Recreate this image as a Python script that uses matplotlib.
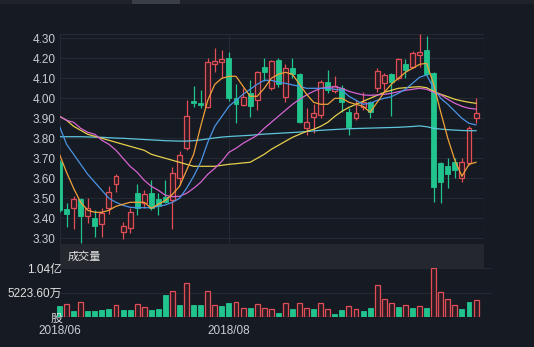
import matplotlib
matplotlib.use('Agg')
import matplotlib.pyplot as plt
from matplotlib.patches import Rectangle
import numpy as np

plt.rcParams['font.family'] = ['Liberation Sans', 'Noto Sans CJK SC', 'DejaVu Sans']

# ---------------- data ----------------
opens = [3.68, 3.445, 3.45, 3.495, 3.41, 3.40, 3.373, 3.45, 3.571, 3.333,
         3.353, 3.525, 3.478, 3.525, 3.495, 3.505, 3.49, 3.60, 3.75, 3.985,
         3.977, 3.958, 4.17, 4.18, 4.203, 4.003, 3.967, 4.025, 3.992, 4.155,
         4.053, 4.19, 4.008, 4.153, 4.12, 3.85, 3.908, 3.917, 4.083, 4.037,
         4.053, 3.933, 3.90, 3.958, 3.983, 4.05, 4.078, 4.12, 4.10, 4.172,
         4.158, 4.217, 4.242, 4.125, 3.675, 3.662, 3.683, 3.60, 3.675, 3.90]
closes = [3.44, 3.42, 3.495, 3.41, 3.45, 3.36, 3.425, 3.533, 3.613, 3.363,
          3.433, 3.45, 3.52, 3.45, 3.46, 3.48, 3.625, 3.717, 3.913, 3.975,
          3.965, 4.183, 4.186, 4.195, 4.0, 3.972, 4.005, 3.962, 4.133, 4.133,
          4.187, 4.07, 4.153, 4.12, 3.88, 3.883, 3.925, 4.083, 4.042, 4.062,
          3.983, 3.858, 3.925, 3.983, 3.933, 4.137, 4.117, 4.08, 4.197, 4.142,
          4.225, 4.233, 4.12, 3.558, 3.583, 3.62, 3.641, 3.683, 3.853, 3.925]
highs = [3.69, 3.475, 3.51, 3.50, 3.50, 3.44, 3.45, 3.56, 3.62, 3.38,
         3.45, 3.57, 3.54, 3.59, 3.525, 3.59, 3.655, 3.735, 3.99, 4.06,
         4.04, 4.20, 4.25, 4.24, 4.23, 4.07, 4.05, 4.09, 4.137, 4.20,
         4.19, 4.20, 4.17, 4.20, 4.125, 3.95, 3.97, 4.09, 4.142, 4.11,
         4.067, 3.95, 3.99, 4.033, 3.987, 4.153, 4.125, 4.125, 4.20, 4.197,
         4.237, 4.32, 4.31, 4.13, 3.683, 3.70, 3.703, 3.70, 3.86, 4.0]
lows = [3.43, 3.355, 3.345, 3.275, 3.375, 3.305, 3.305, 3.42, 3.533, 3.295,
        3.325, 3.415, 3.45, 3.44, 3.415, 3.475, 3.345, 3.565, 3.742, 3.955,
        3.953, 3.953, 4.13, 4.10, 3.985, 3.875, 3.96, 3.905, 3.94, 4.085,
        4.04, 4.055, 3.983, 4.10, 3.875, 3.817, 3.825, 3.90, 4.025, 4.025,
        3.933, 3.817, 3.89, 3.942, 3.903, 4.033, 4.033, 3.913, 4.092, 4.10,
        4.15, 4.158, 4.117, 3.483, 3.475, 3.553, 3.60, 3.583, 3.667, 3.875]

ma_orange = [3.72, 3.63, 3.55, 3.48, 3.44, 3.43, 3.43, 3.44, 3.46, 3.47,
             3.48, 3.48, 3.48, 3.45, 3.47, 3.49, 3.52, 3.56, 3.64, 3.72,
             3.86, 3.99, 4.07, 4.10, 4.11, 4.11, 4.06, 4.01, 4.01, 4.05,
             4.10, 4.12, 4.13, 4.12, 4.07, 4.02, 3.98, 3.97, 3.97, 4.00,
             4.00, 3.98, 3.97, 3.96, 3.93, 3.98, 4.03, 4.07, 4.10, 4.13,
             4.15, 4.17, 4.175, 4.07, 3.93, 3.80, 3.69, 3.61, 3.67, 3.68]
ma_yellow = [3.91, 3.89, 3.86, 3.84, 3.82, 3.81, 3.80, 3.79, 3.78, 3.77,
             3.76, 3.75, 3.74, 3.72, 3.71, 3.70, 3.69, 3.68, 3.67, 3.66,
             3.66, 3.66, 3.66, 3.665, 3.67, 3.673, 3.677, 3.68, 3.70, 3.72,
             3.745, 3.765, 3.785, 3.805, 3.82, 3.835, 3.845, 3.86, 3.88, 3.91,
             3.935, 3.955, 3.97, 3.985, 4.00, 4.015, 4.03, 4.04, 4.05, 4.053,
             4.056, 4.058, 4.053, 4.035, 4.02, 4.008, 3.995, 3.987, 3.98, 3.975]
ma_pink = [3.91, 3.89, 3.88, 3.85, 3.83, 3.82, 3.79, 3.77, 3.74, 3.70,
           3.66, 3.63, 3.59, 3.56, 3.54, 3.515, 3.508, 3.51, 3.525, 3.55,
           3.58, 3.62, 3.65, 3.685, 3.73, 3.75, 3.775, 3.795, 3.815, 3.85,
           3.88, 3.91, 3.94, 3.97, 3.995, 4.017, 4.035, 4.05, 4.055, 4.058,
           4.05, 4.035, 4.025, 4.017, 4.015, 4.017, 4.02, 4.025, 4.033, 4.04,
           4.045, 4.05, 4.045, 4.03, 4.017, 3.995, 3.975, 3.96, 3.95, 3.946]
ma_blue = [3.86, 3.77, 3.72, 3.67, 3.62, 3.58, 3.54, 3.50, 3.48, 3.465,
           3.455, 3.453, 3.453, 3.453, 3.46, 3.467, 3.48, 3.50, 3.55, 3.61,
           3.68, 3.78, 3.86, 3.91, 3.96, 3.99, 4.02, 4.045, 4.07, 4.09,
           4.09, 4.08, 4.075, 4.067, 4.06, 4.05, 4.05, 4.05, 4.05, 4.045,
           4.04, 4.01, 3.99, 3.97, 3.975, 3.99, 4.0, 4.008, 4.025, 4.045,
           4.075, 4.105, 4.117, 4.05, 4.0, 3.97, 3.935, 3.90, 3.875, 3.867]
ma_cyan = [3.808, 3.808, 3.808, 3.808, 3.807, 3.806, 3.805, 3.803, 3.801, 3.80,
           3.798, 3.796, 3.794, 3.792, 3.79, 3.788, 3.787, 3.786, 3.786, 3.788,
           3.792, 3.797, 3.802, 3.806, 3.809, 3.811, 3.813, 3.815, 3.818, 3.821,
           3.823, 3.825, 3.827, 3.829, 3.831, 3.834, 3.837, 3.84, 3.842, 3.844,
           3.846, 3.848, 3.849, 3.85, 3.851, 3.852, 3.853, 3.854, 3.855, 3.857,
           3.859, 3.862, 3.858, 3.85, 3.846, 3.843, 3.841, 3.839, 3.838, 3.838]

volumes = [24.6, 28.9, 13.4, 31.8, 13.4, 13.4, 15.5, 17.6, 25.5, 15.5,
           15.5, 27.6, 21.9, 15.5, 17.0, 46.7, 55.8, 26.1, 72.8, 26.1,
           26.1, 55.2, 26.1, 24.0, 29.7, 31.8, 20.4, 19.1, 27.6, 19.1,
           18.0, 9.8, 29.7, 17.0, 30.4, 19.1, 17.6, 29.7, 17.6, 7.0,
           15.5, 23.3, 17.6, 13.4, 19.7, 69.2, 38.2, 31.0, 22.5, 26.1,
           19.1, 23.3, 19.1, 104.472, 53.0, 38.2, 26.1, 17.6, 32.5, 36.7]  # millions
vol_up = "grgrggggrggrrgggrgrggrrggrrgrrrgrgrrgrrggrrggrrrgrgrgrrrrggr"

price_ticks = [3.30, 3.40, 3.50, 3.60, 3.70, 3.80, 3.90, 4.00, 4.10, 4.20, 4.30]
vol_tick_vals = [0, 52.236, 104.472]
vol_tick_labels = ['股', '5223.60万', '1.04亿']
xtick_pos = [0, 24]
xtick_labels = ['2018/06', '2018/08']

# ---------------- style ----------------
BG = '#161a22'
GRID = '#242933'
TXT = '#c9cdd3'
GREEN = '#22c48e'
RED = '#e04e58'
HOLLOW = '#2c1b22'
C_OR = '#f0a23a'
C_YE = '#e6cf4c'
C_PK = '#d664d2'
C_BL = '#4a94e6'
C_CY = '#5ec6dc'

W, H = 534, 347
fig = plt.figure(figsize=(W / 100, H / 100), dpi=100, facecolor=BG)

def px_axes(l, t, r, b):
    return fig.add_axes([l / W, 1 - b / H, (r - l) / W, (b - t) / H])

STEP = 7.06
X0 = 59.5  # pixel of index 0

def xlim_for(l, r):
    return ((l - X0) / STEP, (r - X0) / STEP)

# top strip decoration
fig.patches.append(Rectangle((0, 1 - 4 / H), 1, 4 / H, transform=fig.transFigure,
                             facecolor='#1f2229', edgecolor='none'))
fig.patches.append(Rectangle((132 / W, 1 - 4 / H), 48 / W, 4 / H, transform=fig.transFigure,
                             facecolor='#3a3e46', edgecolor='none'))

# ---------------- main candlestick axes ----------------
ax = px_axes(60, 34.3, 484, 244)
ax.set_facecolor(BG)
ax.set_xlim(*xlim_for(60, 484))
ax.set_ylim(3.2715, 4.32)
for s in ax.spines.values():
    s.set_visible(False)
ax.axhline(4.32, color=GRID, lw=1)
for v in price_ticks:
    ax.axhline(v, color=GRID, lw=0.8, zorder=0)
for p in xtick_pos:
    ax.axvline(p, color=GRID, lw=0.8, zorder=0)
ax.axvline(ax.get_xlim()[1], color=GRID, lw=1)
ax.set_xticks([])
ax.set_yticks(price_ticks)
ax.set_yticklabels([f'{v:.2f}' for v in price_ticks], color=TXT, fontsize=8.5)
ax.tick_params(axis='y', length=0, pad=3)

n = len(opens)
idx = np.arange(n)
o = np.array(opens); c = np.array(closes); h = np.array(highs); l = np.array(lows)
up = c >= o
bw = 0.7
for i in range(n):
    col = RED if up[i] else GREEN
    top = max(o[i], c[i]); bot = min(o[i], c[i])
    ax.vlines(i, top, h[i], color=col, lw=0.9, zorder=3)
    ax.vlines(i, l[i], bot, color=col, lw=0.9, zorder=3)
    height = max(top - bot, 0.004)
    if up[i]:
        ax.bar(i, height, bottom=bot, width=bw, facecolor=HOLLOW, edgecolor=RED,
               linewidth=0.9, zorder=4)
    else:
        ax.bar(i, height, bottom=bot, width=bw, facecolor=GREEN, edgecolor=GREEN,
               linewidth=0.6, zorder=4)

for ser, col in [(ma_cyan, C_CY), (ma_yellow, C_YE), (ma_pink, C_PK),
                 (ma_blue, C_BL), (ma_orange, C_OR)]:
    ax.plot(idx, ser, color=col, lw=0.9, zorder=5)

# ---------------- volume title band ----------------
band = px_axes(60, 244, 484, 268.3)
band.set_facecolor('#24272d')
band.set_xticks([]); band.set_yticks([])
for s in band.spines.values():
    s.set_visible(False)
fig.text(68 / W, 1 - 256.5 / H, '成交量', color='#e6e6e6', fontsize=8,
         va='center', ha='left', family=['Noto Sans CJK SC', 'DejaVu Sans'])

# ---------------- volume axes ----------------
vax = px_axes(50, 268.3, 492, 317.3)
vax.set_facecolor('none')
vax.patch.set_visible(False)
vx0, vx1 = xlim_for(50, 492)
vax.set_xlim(vx0, vx1)
vax.set_ylim(0, 104.472)
for s in vax.spines.values():
    s.set_visible(False)
gx0 = (60 - X0) / STEP
for v in vol_tick_vals:
    vax.hlines(v, gx0, vx1, color=GRID, lw=0.8, zorder=0)
vol = np.array(volumes)
for i in range(n):
    if vol_up[i] == 'r':
        vax.bar(i, vol[i], width=bw, facecolor=HOLLOW, edgecolor=RED, linewidth=0.9, zorder=3)
    else:
        vax.bar(i, vol[i], width=bw, facecolor=GREEN, edgecolor=GREEN, linewidth=0.6, zorder=3)
vax.set_yticks([])
vax.set_xticks(xtick_pos)
vax.set_xticklabels(xtick_labels, color=TXT, fontsize=8.5)
vax.tick_params(axis='x', length=0, pad=5.5)

for v, lab in zip(vol_tick_vals, vol_tick_labels):
    ypx = 317.3 - v / 104.472 * 49.0
    fig.text(62 / W, 1 - (ypx + 1.5) / H, lab, color='#e0e0e0', fontsize=8.5,
             ha='right', va='center', zorder=10)

fig.savefig('out.png', dpi=100, facecolor=BG)
